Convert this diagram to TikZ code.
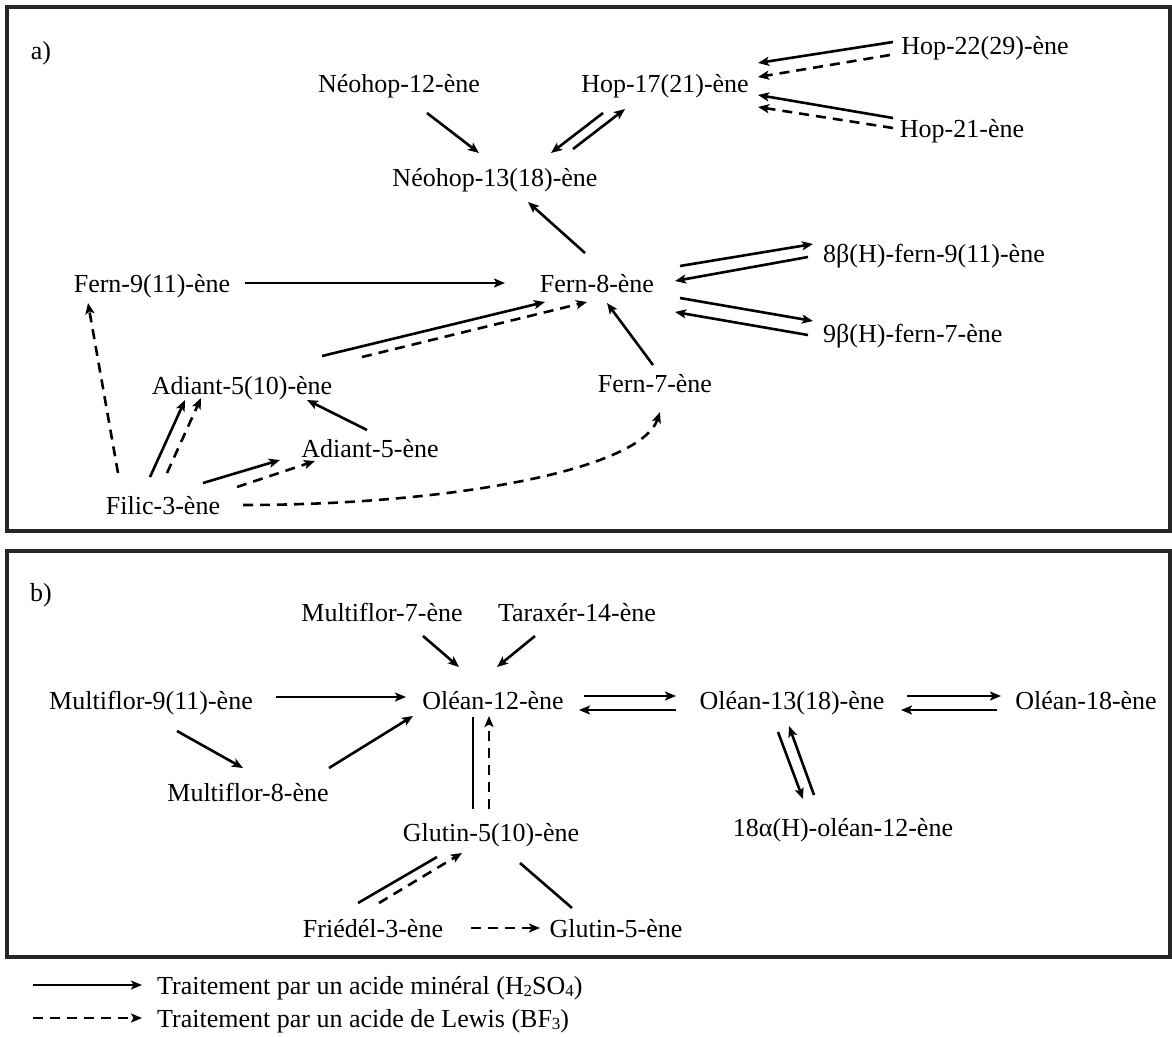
\documentclass[tikz,border=0pt]{standalone}
\usepackage{fontspec}
\setmainfont{Liberation Serif}
\usetikzlibrary{arrows.meta,calc}
\newcommand\lgsub[1]{\raisebox{-1.5pt}{\fontsize{17}{17}\selectfont #1}}
\begin{document}
\begin{tikzpicture}[x=1pt,y=-1pt,
  lbl/.style={font=\fontsize{26}{30}\selectfont, inner sep=0pt, text height=21pt, text depth=2pt},
  lblw/.style={lbl, anchor=west},
  sol/.style={line width=2.6pt, -{Stealth[length=11pt,width=9pt,inset=2.5pt]}},
  das/.style={sol, dash pattern=on 10pt off 7pt},
  plain/.style={line width=2.6pt},
  frame/.style={line width=3.2pt, draw=black!85}]
\useasboundingbox (0,0) rectangle (1172,1036);
\fill[white] (0,0) rectangle (1172,1036);
% frames
\draw[frame] (7,7) rectangle (1170,531);
\draw[frame] (7,551) rectangle (1170,957);
% ---------- part a nodes
\node[lbl] (aL) at (41,50) {a)};
\node[lbl] (hop22) at (985,45) {Hop-22(29)-ène};
\node[lbl] (hop21) at (962,128) {Hop-21-ène};
\node[lbl] (hop17) at (665,83) {Hop-17(21)-ène};
\node[lbl] (neo12) at (399,83) {Néohop-12-ène};
\node[lbl] (neo13) at (495,177) {Néohop-13(18)-ène};
\node[lbl] (fern9) at (152,283) {Fern-9(11)-ène};
\node[lbl] (fern8) at (597,283) {Fern-8-ène};
\node[lblw] (b8) at (823,253) {8β(H)-fern-9(11)-ène};
\node[lblw] (b9) at (823,333) {9β(H)-fern-7-ène};
\node[lbl] (fern7) at (655,383) {Fern-7-ène};
\node[lbl] (ad510) at (242,385) {Adiant-5(10)-ène};
\node[lbl] (ad5) at (370,448) {Adiant-5-ène};
\node[lbl] (filic) at (163,505) {Filic-3-ène};
% ---------- part a connectors
\draw[sol] ($(hop22)+(-92,-3)$) -- ($(hop17)+(93,-20)$);
\draw[das] ($(hop22)+(-95,10)$) -- ($(hop17)+(93,-6)$);
\draw[sol] ($(hop21)+(-69,-10)$) -- ($(hop17)+(93,12)$);
\draw[das] ($(hop21)+(-69,0)$) -- ($(hop17)+(93,24)$);
\draw[sol] ($(neo12)+(28,30)$) -- ($(neo13)+(-16,-24)$);
\draw[sol] ($(hop17)+(-62,30)$) -- ($(neo13)+(56,-24)$);
\draw[sol] ($(neo13)+(78,-28)$) -- ($(hop17)+(-40,26)$);
\draw[sol] ($(fern8)+(-12,-30)$) -- ($(neo13)+(33,25)$);
\draw[sol] ($(fern9)+(93,0)$) -- ($(fern8)+(-92,0)$);
\draw[sol] ($(ad510)+(80,-29)$) -- ($(fern8)+(-52,19)$);
\draw[das] ($(ad510)+(120,-28)$) -- ($(fern8)+(-10,19)$);
\draw[sol] ($(fern7)+(-2,-18)$) -- ($(fern8)+(10,20)$);
\draw[sol] ($(fern8)+(83,-17)$) -- ($(b8.west)+(-10,-9)$);
\draw[sol] ($(b8.west)+(-15,4)$) -- ($(fern8)+(78,-2)$);
\draw[sol] ($(fern8)+(83,15)$) -- ($(b9.west)+(-10,-12)$);
\draw[sol] ($(b9.west)+(-15,2)$) -- ($(fern8)+(78,29)$);
\draw[das] ($(filic)+(-45,-32)$) -- ($(fern9)+(-64,20)$);
\draw[sol] ($(filic)+(-13,-28)$) -- ($(ad510)+(-57,15)$);
\draw[das] ($(filic)+(4,-32)$) -- ($(ad510)+(-41,13)$);
\draw[sol] ($(ad5)+(-3,-18)$) -- ($(ad510)+(65,15)$);
\draw[sol] ($(filic)+(40,-22)$) -- ($(ad5)+(-90,12)$);
\draw[das] ($(filic)+(74,-18)$) -- ($(ad5)+(-55,13)$);
\draw[das] ($(filic)+(80,0)$) .. controls +(207,0) and +(-20,58) .. ($(fern7)+(5,29)$);
% ---------- part b nodes
\node[lbl] (bL) at (41,592) {b)};
\node[lbl] (mf7) at (382,612) {Multiflor-7-ène};
\node[lbl] (tx14) at (577,612) {Taraxér-14-ène};
\node[lbl] (mf9) at (151,700) {Multiflor-9(11)-ène};
\node[lbl] (ol12) at (493,700) {Oléan-12-ène};
\node[lbl] (ol13) at (792,700) {Oléan-13(18)-ène};
\node[lbl] (ol18) at (1086,700) {Oléan-18-ène};
\node[lbl] (mf8) at (248,792) {Multiflor-8-ène};
\node[lbl] (a18) at (843,827) {18α(H)-oléan-12-ène};
\node[lbl] (glu510) at (491,832) {Glutin-5(10)-ène};
\node[lbl] (fried) at (373,928) {Friédél-3-ène};
\node[lbl] (glu5) at (616,928) {Glutin-5-ène};
% ---------- part b connectors
\draw[sol] ($(mf7)+(41,24)$) -- ($(ol12)+(-34,-33)$);
\draw[sol] ($(tx14)+(-42,24)$) -- ($(ol12)+(4,-33)$);
\draw[sol] ($(mf9)+(125,-3)$) -- ($(ol12)+(-87,-3)$);
\draw[sol] ($(mf9)+(26,31)$) -- ($(mf8)+(-5,-24)$);
\draw[sol] ($(mf8)+(81,-24)$) -- ($(ol12)+(-80,16)$);
\draw[plain] ($(ol12)+(-20,17)$) -- ($(glu510)+(-18,-23)$);
\draw[das] ($(glu510)+(-2,-23)$) -- ($(ol12)+(-4,16)$);
\draw[sol] ($(ol12)+(91,-4)$) -- ($(ol13)+(-116,-4)$);
\draw[sol] ($(ol13)+(-116,10)$) -- ($(ol12)+(86,10)$);
\draw[sol] ($(ol13)+(115,-4)$) -- ($(ol18)+(-85,-4)$);
\draw[sol] ($(ol18)+(-89,10)$) -- ($(ol13)+(109,10)$);
\draw[sol] ($(ol13)+(-14,32)$) -- ($(a18)+(-40,-28)$);
\draw[sol] ($(a18)+(-29,-32)$) -- ($(ol13)+(-3,26)$);
\draw[plain] ($(fried)+(-15,-25)$) -- ($(glu510)+(-54,25)$);
\draw[das] ($(fried)+(6,-25)$) -- ($(glu510)+(-29,21)$);
\draw[plain] ($(glu510)+(29,31)$) -- ($(glu5)+(-44,-20)$);
\draw[das] ($(fried)+(98,0)$) -- ($(glu5)+(-76,0)$);
% ---------- legend
\coordinate (l1s) at (33,985);
\coordinate (l2s) at (33,1018);
\node[lblw] (l1t) at (157,985) {Traitement par un acide minéral (H\lgsub{2}SO\lgsub{4})};
\node[lblw] (l2t) at (157,1018) {Traitement par un acide de Lewis (BF\lgsub{3})};
\draw[sol] (l1s) -- ($(l1t.west)+(-15,0)$);
\draw[das] (l2s) -- ($(l2t.west)+(-15,0)$);
\end{tikzpicture}
\end{document}
